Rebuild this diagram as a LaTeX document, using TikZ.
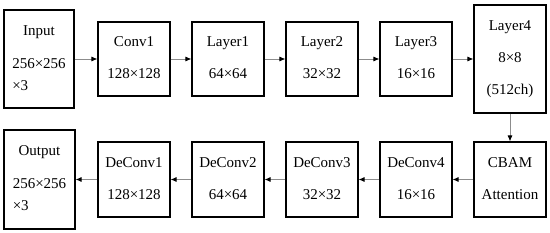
\documentclass[tikz,border=0pt]{standalone}
\usepackage{fontspec}
\setmainfont{Liberation Serif}
\usetikzlibrary{arrows.meta}
\definecolor{linegris}{HTML}{8C8C8C}

\newcommand{\cellc}[1]{\raisebox{3pt}{\begin{tabular}{@{}c@{}}#1\end{tabular}}}
\newcommand{\celll}[1]{\raisebox{3pt}{\begin{tabular}{@{}l@{}}#1\end{tabular}}}

\tikzset{
  blk/.style={draw=black,line width=1.1pt,fill=white,align=center,
              inner sep=0pt,minimum width=72pt,minimum height=74pt,
              font=\fontsize{15}{18}\selectfont},
  flow/.style={draw=linegris,line width=0.9pt,
               -{Latex[length=6pt,width=5pt,black]}}
}

\begin{document}
\begin{tikzpicture}[x=1pt,y=-1pt]
  \useasboundingbox (0,0) rectangle (550,233);
  % encoder
  \node[blk,minimum width=70pt,minimum height=98pt] (input) at (39,59)
    {\celll{\multicolumn{1}{@{}c@{}}{Input}\\[15pt]
      256\texttimes256\\[4pt]\texttimes3}};
  \node[blk] (conv1)  at (134,59) {\cellc{Conv1\\[14pt]128\texttimes128}};
  \node[blk] (layer1) at (228,59) {\cellc{Layer1\\[14pt]64\texttimes64}};
  \node[blk] (layer2) at (322,59) {\cellc{Layer2\\[14pt]32\texttimes32}};
  \node[blk] (layer3) at (416,59) {\cellc{Layer3\\[14pt]16\texttimes16}};
  \node[blk,minimum height=108pt] (layer4) at (510,59)
    {\cellc{Layer4\\[14pt]8\texttimes8\\[14pt](512ch)}};
  % attention + decoder
  \node[blk,minimum height=75pt] (cbam) at (510,179.5) {\cellc{CBAM\\[14pt]Attention}};
  \node[blk,minimum height=75pt] (deconv4) at (416,179.5) {\cellc{DeConv4\\[14pt]16\texttimes16}};
  \node[blk,minimum height=75pt] (deconv3) at (322,179.5) {\cellc{DeConv3\\[14pt]32\texttimes32}};
  \node[blk,minimum height=75pt] (deconv2) at (228,179.5) {\cellc{DeConv2\\[14pt]64\texttimes64}};
  \node[blk,minimum height=75pt] (deconv1) at (134,179.5) {\cellc{DeConv1\\[14pt]128\texttimes128}};
  \node[blk,minimum width=71pt,minimum height=99pt] (output) at (39.5,179.5)
    {\celll{\multicolumn{1}{@{}c@{}}{Output}\\[15pt]
      256\texttimes256\\[4pt]\texttimes3}};
  % connectors
  \draw[flow] (input) -- (conv1);
  \draw[flow] (conv1) -- (layer1);
  \draw[flow] (layer1) -- (layer2);
  \draw[flow] (layer2) -- (layer3);
  \draw[flow] (layer3) -- (layer4);
  \draw[flow] (layer4) -- (cbam);
  \draw[flow] (cbam) -- (deconv4);
  \draw[flow] (deconv4) -- (deconv3);
  \draw[flow] (deconv3) -- (deconv2);
  \draw[flow] (deconv2) -- (deconv1);
  \draw[flow] (deconv1) -- (output);
\end{tikzpicture}
\end{document}
